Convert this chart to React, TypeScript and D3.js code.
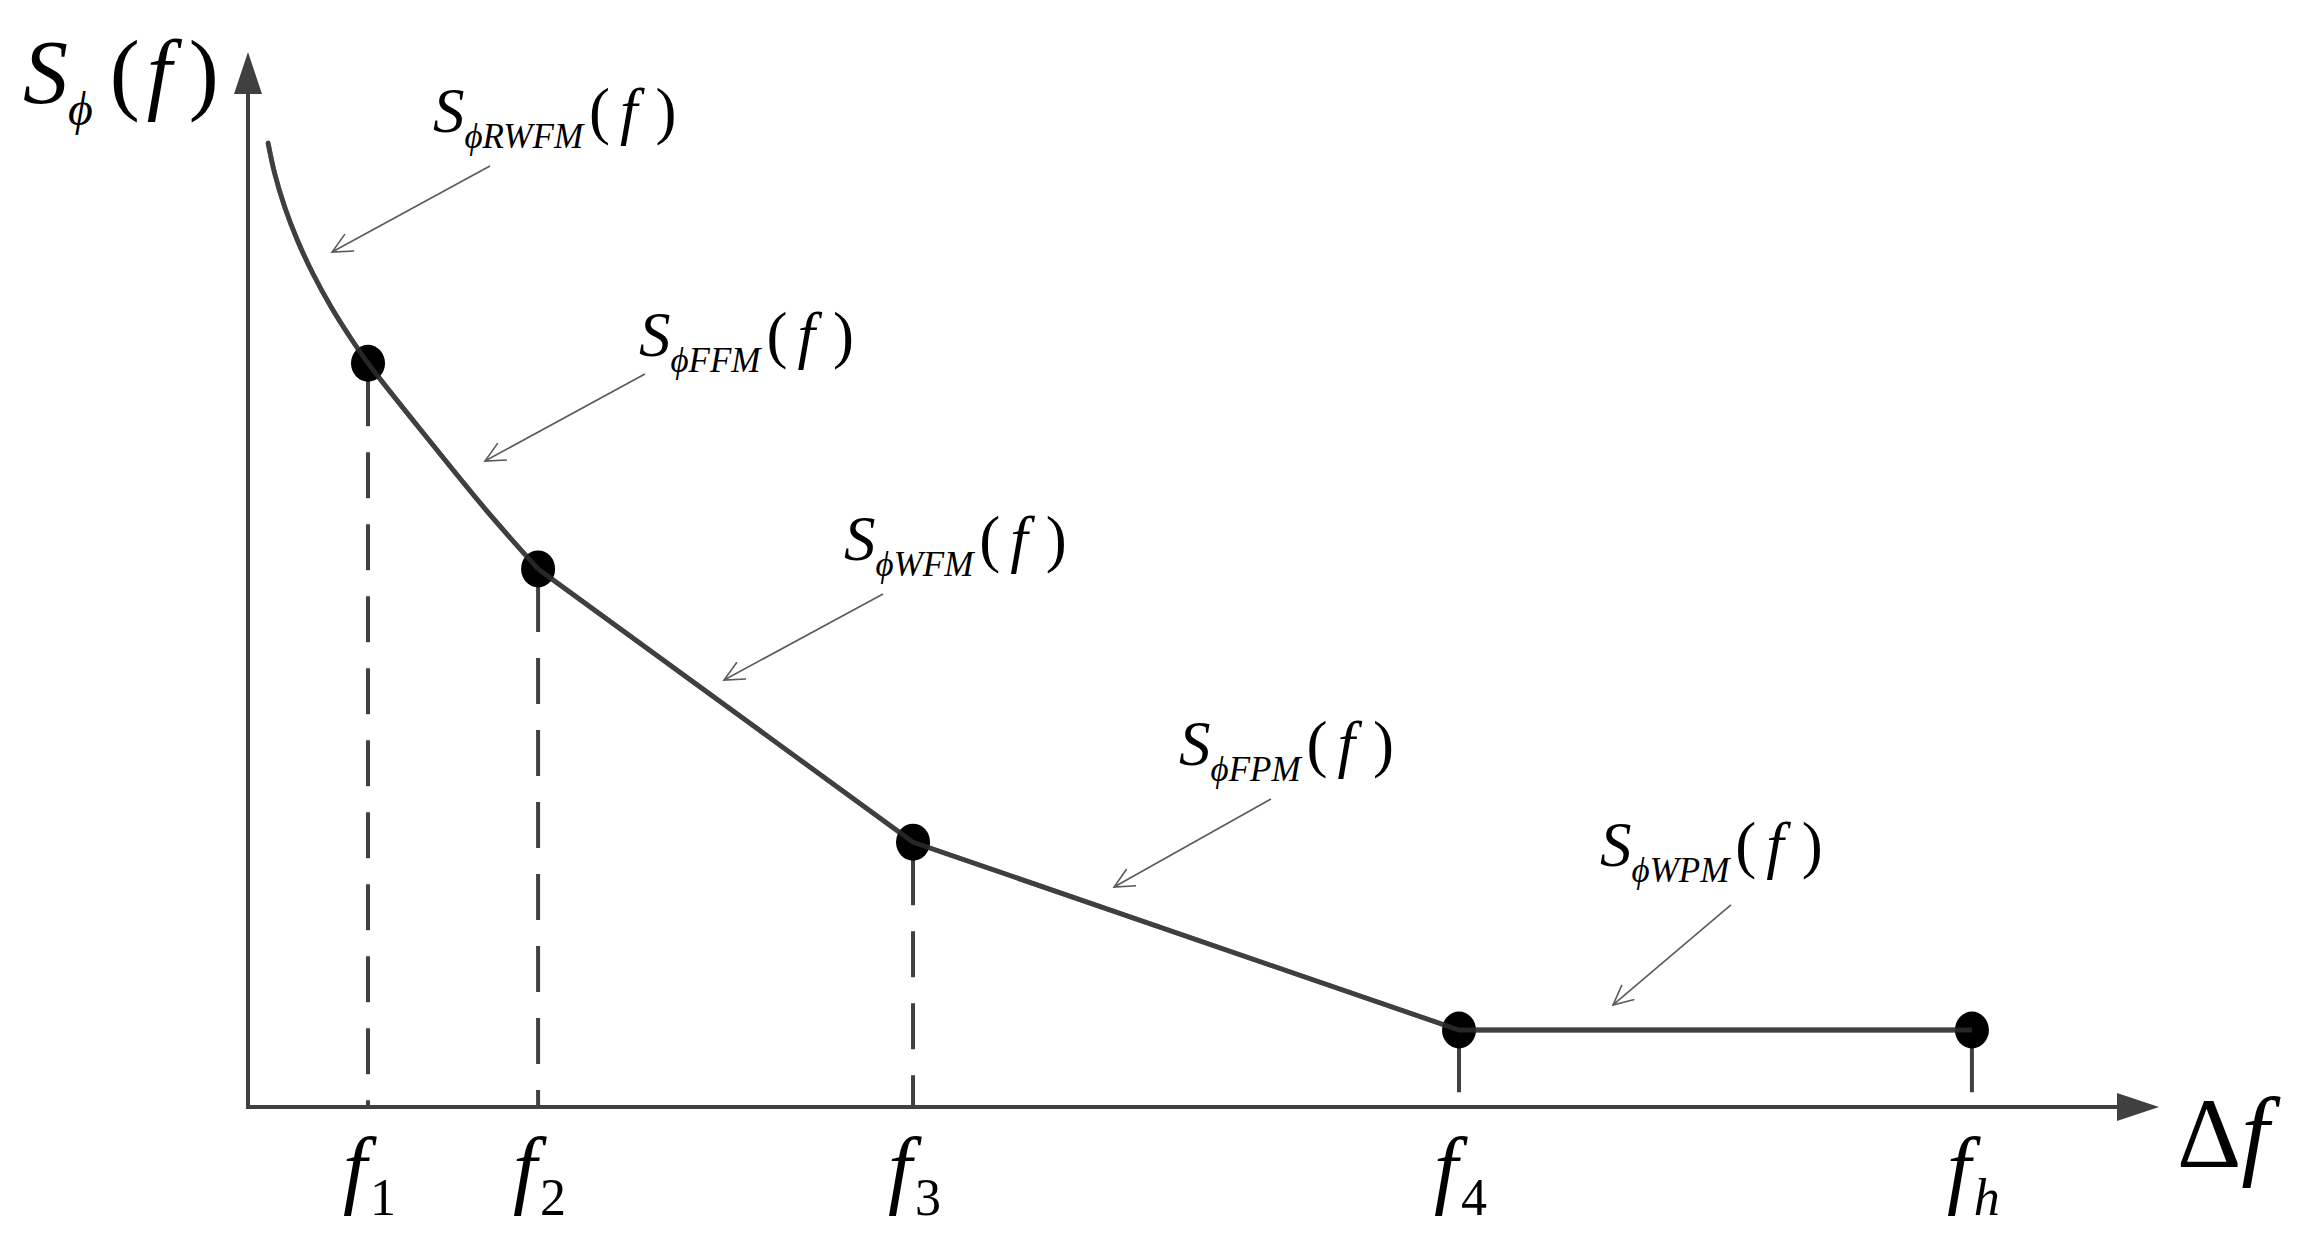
import React from 'react';
import * as d3 from 'd3';

// 转折频率点（数据单位：横轴 0-100，纵轴 0-100）
const breakNames = ['1', '2', '3', '4', 'h'];
const breakX = [6.28, 15.18, 34.8, 63.37, 90.21];
const breakY = [70.5, 51.0, 25.1, 7.3, 7.3];
const stemDashed = [true, true, true, false, false];
const stemEnd = [0, 0, 0, 1.4, 1.4];

// RWFM 段的曲线 (起点 -> f1 -> f2)
const rwfmX = [1.05, 1.39, 1.92, 2.58, 3.38, 4.35, 5.44, 6.28, 9.52, 12.45, 15.18];
const rwfmY = [91.37, 88.53, 85.31, 82.18, 79.05, 75.83, 72.7, 70.5, 63.1, 56.6, 51.0];

// 标注
const noteNames = ['RWFM', 'FFM', 'WFM', 'FPM', 'WPM'];
const noteX = [9.68, 20.46, 31.19, 48.72, 70.75];
const noteY = [92.4, 71.18, 51.85, 32.42, 22.84];
const tailX = [12.66, 20.77, 33.23, 53.53, 77.6];
const tailY = [89.19, 69.48, 48.63, 29.19, 19.15];
const headX = [4.4, 12.4, 24.91, 45.32, 71.43];
const headY = [81.04, 61.23, 40.47, 20.85, 9.67];

const W = 2299;
const H = 1255;
const FONT = '"Liberation Serif", "Times New Roman", Times, serif';
const INK = '#404040';
const txt = { fontFamily: FONT };

const App = () => {
    const x = d3.scaleLinear().domain([0, 100]).range([248, 2159]);
    const y = d3.scaleLinear().domain([0, 100]).range([1107, 52]);

    const r = 17;
    const arrowLen = 42;
    const arrowHalf = 14;

    const curve = d3
        .line<number>()
        .x((_, i) => x(rwfmX[i]))
        .y((_, i) => y(rwfmY[i]))
        .curve(d3.curveCatmullRom)(rwfmX);

    const tail = d3
        .line<number>()
        .x(i => x(breakX[i]))
        .y(i => y(breakY[i]))([1, 2, 3, 4]);

    const x0 = x(0), y0 = y(0), xTop = x(100), yTop = y(100);

    const noteArrow = (i: number) => {
        const hx = x(headX[i]), hy = y(headY[i]);
        const tx = x(tailX[i]), ty = y(tailY[i]);
        const a = Math.atan2(ty - hy, tx - hx);
        const len = 22, spread = 0.45;
        const p1 = [hx + len * Math.cos(a + spread), hy + len * Math.sin(a + spread)];
        const p2 = [hx + len * Math.cos(a - spread), hy + len * Math.sin(a - spread)];
        return (
            <g key={'a' + i} stroke="#5a5a5a" strokeWidth={1.6} fill="none">
                <line x1={tx} y1={ty} x2={hx} y2={hy} />
                <polyline points={`${p1[0]},${p1[1]} ${hx},${hy} ${p2[0]},${p2[1]}`} />
            </g>
        );
    };

    return (
        <svg
            width={W}
            height={H}
            style={{ position: 'absolute', left: 0, top: 0, background: '#fff', fontFamily: FONT }}
        >
            {/* 坐标轴 */}
            <g stroke={INK} strokeWidth={4} fill="none">
                <line x1={x0} y1={y0 + 2} x2={x0} y2={yTop + arrowLen} />
                <line x1={x0 - 2} y1={y0} x2={xTop - arrowLen} y2={y0} />
            </g>
            <polygon
                fill={INK}
                points={`${x0},${yTop} ${x0 - arrowHalf},${yTop + arrowLen} ${x0 + arrowHalf},${yTop + arrowLen}`}
            />
            <polygon
                fill={INK}
                points={`${xTop},${y0} ${xTop - arrowLen},${y0 - arrowHalf} ${xTop - arrowLen},${y0 + arrowHalf}`}
            />

            {/* 竖线 */}
            {breakX.map((bx, i) => (
                <line
                    key={'s' + i}
                    x1={x(bx)}
                    x2={x(bx)}
                    y1={stemDashed[i] ? y(breakY[i]) + r : y(breakY[i])}
                    y2={y(stemEnd[i])}
                    stroke={INK}
                    strokeWidth={4}
                    strokeDasharray={stemDashed[i] ? '46 26' : undefined}
                />
            ))}

            {/* 曲线 */}
            <path d={curve || ''} fill="none" stroke={INK} strokeWidth={4.8} strokeLinecap="round" />
            <path d={tail || ''} fill="none" stroke={INK} strokeWidth={4.8} strokeLinejoin="round" />

            {/* 点 */}
            {breakX.map((bx, i) => (
                <ellipse key={'c' + i} cx={x(bx)} cy={y(breakY[i])} rx={r} ry={r + 1.5} fill="#000" />
            ))}
            {/* 线再画一遍压在点上 */}
            <path d={curve || ''} fill="none" stroke={INK} strokeWidth={4.8} opacity={0.6} />
            <path d={tail || ''} fill="none" stroke={INK} strokeWidth={4.8} opacity={0.6} />

            {/* 标注箭头 */}
            {noteNames.map((_, i) => noteArrow(i))}

            {/* 标注文字 */}
            {noteNames.map((n, i) => (
                <text key={'t' + i} x={x(noteX[i])} y={y(noteY[i])} fontSize={63} fill="#000" style={txt}>
                    <tspan fontStyle="italic">S</tspan>
                    <tspan fontStyle="italic" fontSize={35} dy={16}>{'\u03D5' + n}</tspan>
                    <tspan dy={-16} dx={6}>(</tspan>
                    <tspan fontStyle="italic" dx={10}>f</tspan>
                    <tspan dx={18}>)</tspan>
                </text>
            ))}

            {/* 纵轴标题 */}
            <text x={23} y={103} fontSize={90} fill="#000" style={txt}>
                <tspan fontStyle="italic">S</tspan>
                <tspan fontStyle="italic" fontSize={48} dy={22}>{'\u03D5'}</tspan>
                <tspan dy={-22} dx={17}>(</tspan>
                <tspan fontStyle="italic" dx={7}>f</tspan>
                <tspan dx={17}>)</tspan>
            </text>

            {/* 横轴刻度标签 */}
            {breakX.map((bx, i) => (
                <text key={'l' + i} x={x(bx) - 25} y={1197} fontSize={86} fill="#000" style={txt}>
                    <tspan fontStyle="italic">f</tspan>
                    <tspan
                        fontSize={52}
                        dy={18}
                        dx={3}
                        fontStyle={breakNames[i] === 'h' ? 'italic' : 'normal'}
                    >
                        {breakNames[i]}
                    </tspan>
                </text>
            ))}

            {/* 横轴标题 */}
            <text x={2177} y={1167} fontSize={100} fill="#000" style={txt}>
                <tspan>Δ</tspan>
                <tspan fontStyle="italic">f</tspan>
            </text>
        </svg>
    );
};

export default App;
